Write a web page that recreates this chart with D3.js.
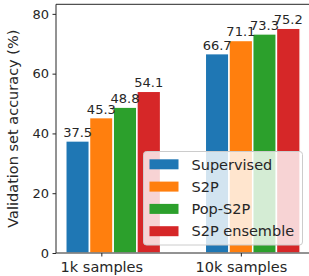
<!DOCTYPE html>
<html>
<head>
<meta charset="utf-8">
<script src="https://cdn.jsdelivr.net/npm/d3@7"></script>
<style>
  body { margin: 0; background: #fff; }
  text { font-family: "DejaVu Sans", sans-serif; fill: #262626; }
</style>
</head>
<body>
<svg id="chart" width="309" height="276"></svg>
<script>
// groups on the x axis
var groups = ["1k samples", "10k samples"];
// one series per method
var series = ["Supervised", "S2P", "Pop-S2P", "S2P ensemble"];
var colors = ["#1f77b4", "#ff7f0e", "#2ca02c", "#d62728"];
var supervised = [37.5, 66.7];
var s2p = [45.3, 71.1];
var popS2p = [48.8, 73.3];
var ensemble = [54.1, 75.2];
var yTicks = [0, 20, 40, 60, 80];

var values = [supervised, s2p, popS2p, ensemble];

var margins = { top: 4.3, bottom: 23, left: 56, right: -3 };
var W = 309, H = 276;
var svg = d3.select("#chart");

var barW = 0.17;
// axes span from -0.325 to 1.51 in group units (right edge is cropped off)
var x = d3.scaleLinear().domain([-0.325, 1.51]).range([margins.left, W - margins.right]);
var y = d3.scaleLinear().domain([0, 83.2]).range([H - margins.bottom, margins.top]);

// bars
series.forEach(function(s, i) {
    svg.append("g").selectAll("rect")
        .data(values[i])
        .enter().append("rect")
        .attr("x", function(d, g) { return x(g + (i - 1) * barW - barW / 2); })
        .attr("width", x(barW) - x(0))
        .attr("y", function(d) { return y(d); })
        .attr("height", function(d) { return y(0) - y(d); })
        .attr("fill", colors[i])
        .attr("stroke", "#fff")
        .attr("stroke-width", 1.5);
});

// value labels
series.forEach(function(s, i) {
    svg.append("g").selectAll("text")
        .data(values[i])
        .enter().append("text")
        .attr("x", function(d, g) { return x(g + (i - 1) * barW); })
        .attr("y", function(d) { return y(d) - 4; })
        .attr("text-anchor", "middle")
        .style("font-size", "13px")
        .text(function(d) { return d.toFixed(1); });
});

// axes
var yAxis = svg.append("g")
    .attr("transform", "translate(" + margins.left + ",0)")
    .call(d3.axisLeft(y).tickValues(yTicks).tickSize(3.5).tickPadding(3.5));
yAxis.select(".domain").remove();
yAxis.selectAll("text").style("font-size", "13px").attr("fill", "#262626");
yAxis.selectAll("line").attr("stroke", "#262626");

var xAxis = svg.append("g")
    .attr("transform", "translate(0," + y(0) + ")")
    .call(d3.axisBottom(x).tickValues([0, 1]).tickSize(3.5).tickPadding(5)
        .tickFormat(function(d) { return groups[d]; }));
xAxis.select(".domain").remove();
xAxis.selectAll("text").style("font-size", "14.5px").attr("fill", "#262626");
xAxis.selectAll("line").attr("stroke", "#262626");

// spines
var x0 = margins.left, x1 = W - margins.right;
svg.append("line").attr("x1", x0).attr("x2", x0).attr("y1", y(83.2)).attr("y2", y(0))
    .attr("stroke", "#262626").attr("stroke-width", 1);
svg.append("line").attr("x1", x0).attr("x2", x1).attr("y1", y(0)).attr("y2", y(0))
    .attr("stroke", "#262626").attr("stroke-width", 1);
svg.append("line").attr("x1", x0).attr("x2", x1).attr("y1", y(83.2)).attr("y2", y(83.2))
    .attr("stroke", "#262626").attr("stroke-width", 1);

// y label
svg.append("text")
    .attr("transform", "translate(18," + ((y(0) + y(83.2)) / 2) + ") rotate(-90)")
    .attr("text-anchor", "middle")
    .style("font-size", "14.5px")
    .text("Validation set accuracy (%)");

// legend
var lg = svg.append("g").attr("transform", "translate(143.5,151.5)");
lg.append("rect")
    .attr("width", 159).attr("height", 93.5)
    .attr("rx", 3)
    .attr("fill", "#fff").attr("fill-opacity", 0.8)
    .attr("stroke", "#ccc").attr("stroke-width", 1);
series.forEach(function(s, i) {
    var row = lg.append("g").attr("transform", "translate(6," + (12.8 + i * 22.3) + ")");
    row.append("rect").attr("x", 0).attr("y", -5).attr("width", 29).attr("height", 10)
        .attr("fill", colors[i]);
    row.append("text").attr("x", 42).attr("y", 5.2)
        .style("font-size", "14.5px")
        .text(s);
});
</script>
</body>
</html>
